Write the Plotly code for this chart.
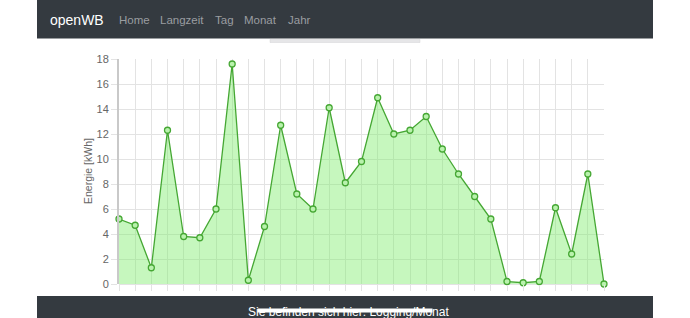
import plotly.graph_objects as go

# ---- data ----
days = list(range(1, 32))
day_labels = [f"{d:02d}" for d in days]
energy_kwh = [5.2, 4.7, 1.3, 12.3, 3.8, 3.7, 6.0, 17.6, 0.3, 4.6,
              12.7, 7.2, 6.0, 14.1, 8.1, 9.8, 14.9, 12.0, 12.3, 13.4,
              10.8, 8.8, 7.0, 5.2, 0.2, 0.1, 0.2, 6.1, 2.4, 8.8, 0.0]
y_ticks = list(range(0, 19, 2))
brand = "openWB"
nav_links = ["Home", "Langzeit", "Tag", "Monat", "Jahr"]
footer_text = "Sie befinden sich hier: Logging/Monat"
y_title = "Energie [kWh]"

# ---- page geometry (pixels) ----
W, H = 690, 318
L, R, T, B = 119, 604, 59, 284


def px(x):
    return (x - L) / (R - L)


def py(y):
    return (B - y) / (B - T)


FONT = "Liberation Sans, Arial, sans-serif"
DARK = "#343a40"
GRID = "#e3e3e3"

fig = go.Figure()
fig.add_trace(go.Scatter(
    x=days, y=energy_kwh, mode="lines+markers",
    fill="tozeroy", fillcolor="rgba(120,235,100,0.42)",
    line=dict(color="#45a733", width=1.3),
    marker=dict(size=6, color="#b9f2ad", line=dict(color="#45a733", width=1.3)),
    cliponaxis=False, hoverinfo="x+y",
))

shapes = [
    # navbar
    dict(type="rect", xref="paper", yref="paper", x0=px(37), x1=px(653), y0=py(38.5), y1=py(-2),
         fillcolor=DARK, line=dict(width=0), layer="above"),
    # light strip under navbar
    dict(type="rect", xref="paper", yref="paper", x0=px(270), x1=px(420), y0=py(42.5), y1=py(39.5),
         fillcolor="#e6e6e8", line=dict(color="#d4d4d6", width=0.5), layer="above"),
    # footer bar
    dict(type="rect", xref="paper", yref="paper", x0=px(37), x1=px(653), y0=py(322), y1=py(296),
         fillcolor=DARK, line=dict(width=0), layer="above"),
]

annotations = [
    dict(text=brand, x=px(48), y=py(19.5), xref="paper", yref="paper", xanchor="left", yanchor="middle",
         showarrow=False, font=dict(family=FONT, size=14, color="white")),
]
link_x = [117, 158, 213, 242, 286]
for name, lx in zip(nav_links, link_x):
    annotations.append(dict(text=name, x=px(lx), y=py(19.5), xref="paper", yref="paper",
                            xanchor="left", yanchor="middle", showarrow=False,
                            font=dict(family=FONT, size=11.5, color="#9a9da0")))
annotations += [
    dict(text=y_title, x=px(88), y=py(171), xref="paper", yref="paper", textangle=-90,
         xanchor="center", yanchor="middle", showarrow=False,
         font=dict(family=FONT, size=10.5, color="#666666")),
    dict(text=footer_text, x=px(348), y=py(312), xref="paper", yref="paper",
         xanchor="center", yanchor="middle", showarrow=False,
         font=dict(family=FONT, size=12, color="white")),
    # home indicator bar (drawn over the footer text)
    dict(text=" ", x=px(345), y=py(310.5), xref="paper", yref="paper",
         xanchor="center", yanchor="middle", showarrow=False, width=174, height=3,
         bgcolor="white", borderpad=0, font=dict(size=1)),
]

fig.update_layout(
    width=W, height=H, autosize=False,
    margin=dict(l=L, r=W - R, t=T, b=H - B, pad=0, autoexpand=False),
    paper_bgcolor="white", plot_bgcolor="white",
    showlegend=False,
    font=dict(family=FONT, size=11, color="#666666"),
    shapes=shapes, annotations=annotations,
    xaxis=dict(range=[1, 31], tickvals=days, ticktext=day_labels, tickangle=-50,
               automargin=False,
               showgrid=True, gridcolor=GRID, gridwidth=1,
               ticks="outside", ticklen=6, tickcolor=GRID,
               showline=False, zeroline=False,
               tickfont=dict(family=FONT, size=11, color="#666666")),
    yaxis=dict(range=[0, 18], tickvals=y_ticks, automargin=False,
               showgrid=True, gridcolor=GRID, gridwidth=1,
               ticks="outside", ticklen=6, tickcolor=GRID,
               showline=True, linecolor="#c9c9c9", linewidth=2,
               zeroline=True, zerolinecolor=GRID, zerolinewidth=1,
               tickfont=dict(family=FONT, size=11, color="#666666")),
)

fig.write_html("out.html")
